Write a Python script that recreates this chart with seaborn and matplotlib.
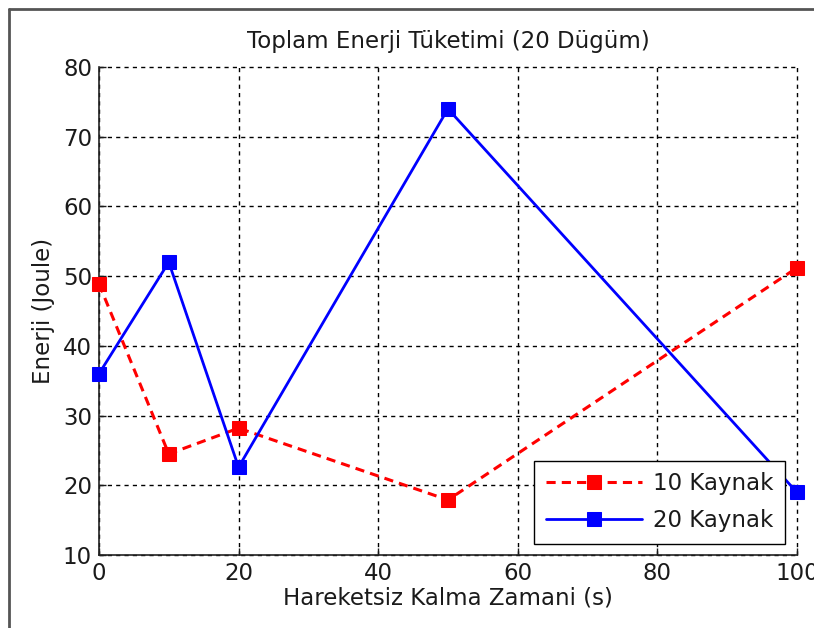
import matplotlib
matplotlib.use("Agg")
import matplotlib.pyplot as plt
from matplotlib.lines import Line2D
import seaborn as sns
import pandas as pd

# Idle time (s) and total energy consumption (J) for 20 nodes
idle_time = [0, 10, 20, 50, 100]
energy_10_sources = [48.9, 24.5, 28.2, 17.9, 51.2]
energy_20_sources = [36.0, 52.0, 22.6, 74.0, 19.0]
series_names = ["10 Kaynak", "20 Kaynak"]
x_ticks = [0, 20, 40, 60, 80, 100]
y_ticks = [10, 20, 30, 40, 50, 60, 70, 80]

df = pd.DataFrame({
    "t": idle_time * 2,
    "e": energy_10_sources + energy_20_sources,
    "series": [series_names[0]] * len(idle_time) + [series_names[1]] * len(idle_time),
})

sns.set_theme(style="white")
plt.rcParams["font.family"] = ["DejaVu Sans"]
FS = 16.5
TXT = "#1a1a1a"

fig = plt.figure(figsize=(8.14, 6.28), dpi=100)
ax = fig.add_axes([0.1216, 0.1162, 0.979 - 0.1216, 0.8933 - 0.1162])

sns.lineplot(data=df[df.series == series_names[0]], x="t", y="e", ax=ax,
             color="#ff0000", linestyle=(0, (3, 2)), linewidth=2.2,
             marker="s", markersize=10, markeredgecolor="#ff0000",
             label=series_names[0], clip_on=False, zorder=5)
sns.lineplot(data=df[df.series == series_names[1]], x="t", y="e", ax=ax,
             color="#0000ff", linestyle="-", linewidth=2.0,
             marker="s", markersize=10, markeredgecolor="#0000ff",
             label=series_names[1], clip_on=False, zorder=5)

ax.set_xlim(0, 100)
ax.set_ylim(10, 80)
ax.set_xticks(x_ticks)
ax.set_yticks(y_ticks)
ax.grid(True, color="black", linestyle=(0, (3, 3)), linewidth=1.0)
ax.set_axisbelow(True)
for gl in ax.get_xgridlines() + ax.get_ygridlines():
    gl.set_clip_on(False)
for s in ["top", "right"]:
    ax.spines[s].set_visible(False)
for s in ["left", "bottom"]:
    ax.spines[s].set_color("#222222")
    ax.spines[s].set_linewidth(1.2)
ax.tick_params(direction="in", length=5, width=1, colors=TXT,
               labelsize=FS, left=True, bottom=True, pad=5)

ax.set_xlabel("Hareketsiz Kalma Zamani (s)", fontsize=FS, color=TXT, labelpad=1)
ax.set_ylabel("Enerji (Joule)", fontsize=FS, color=TXT, labelpad=6)
ax.set_title("Toplam Enerji Tüketimi (20 Dügüm)", fontsize=FS, color=TXT, pad=14)

leg = ax.legend(loc="lower right", fontsize=FS, frameon=True, fancybox=False,
                framealpha=1, edgecolor="black", borderaxespad=0.5,
                handlelength=4.2, borderpad=0.5, labelspacing=0.6,
                handletextpad=0.5)
leg.get_frame().set_linewidth(1.0)
leg.set_zorder(10)
for t in leg.get_texts():
    t.set_color(TXT)

# outer frame lines on the left and top of the figure
fig.add_artist(Line2D([9 / 814, 9 / 814], [0, 1 - 9 / 628], color="#555555", linewidth=2))
fig.add_artist(Line2D([9 / 814, 1], [1 - 9 / 628, 1 - 9 / 628], color="#555555", linewidth=2))

fig.savefig("out.png", dpi=100)
